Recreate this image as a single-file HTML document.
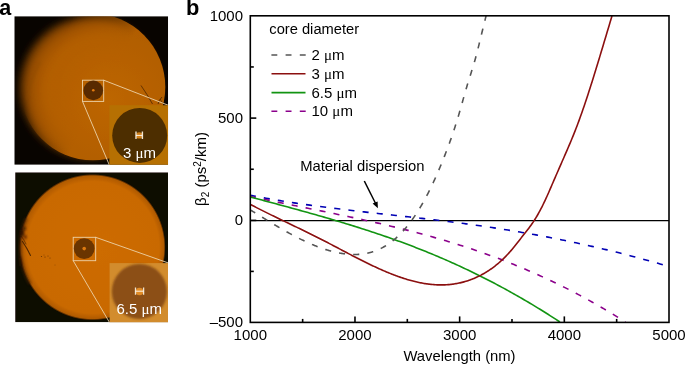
<!DOCTYPE html>
<html><head><meta charset="utf-8"><style>
html,body{margin:0;padding:0;background:#fff;}
body{width:685px;height:365px;overflow:hidden;}
svg{display:block;will-change:transform;font-family:"Liberation Sans",sans-serif;}
</style></head><body>
<svg width="685" height="365" viewBox="0 0 685 365">
<defs>
<radialGradient id="g1" gradientUnits="userSpaceOnUse" cx="110" cy="100" r="90">
<stop offset="0" stop-color="#bd6600"/><stop offset="1" stop-color="#ae5b00"/>
</radialGradient>
<radialGradient id="g1b" gradientUnits="userSpaceOnUse" cx="90" cy="87.5" r="71" fx="125" fy="95">
<stop offset="0" stop-color="#bd6600"/><stop offset="0.75" stop-color="#b35e00"/><stop offset="0.9" stop-color="#9a4f00"/><stop offset="1" stop-color="#4a2600"/>
</radialGradient>
<radialGradient id="g2" gradientUnits="userSpaceOnUse" cx="92.4" cy="247.2" r="73.2" fx="100" fy="250">
<stop offset="0" stop-color="#cd6c05"/><stop offset="0.9" stop-color="#c96904"/><stop offset="0.975" stop-color="#b05a00"/><stop offset="1" stop-color="#0c0700"/>
</radialGradient>
<filter id="blur1" x="-20%" y="-20%" width="140%" height="140%"><feGaussianBlur stdDeviation="1.2"/></filter>
<filter id="blur2" x="-20%" y="-20%" width="140%" height="140%"><feGaussianBlur stdDeviation="0.7"/></filter>
<filter id="blurL" x="-20%" y="-20%" width="140%" height="140%"><feGaussianBlur stdDeviation="3.5"/></filter>
<linearGradient id="lgL" gradientUnits="userSpaceOnUse" x1="60" y1="40" x2="115" y2="70"><stop offset="0" stop-color="#fff"/><stop offset="1" stop-color="#000"/></linearGradient>
<linearGradient id="lgR" gradientUnits="userSpaceOnUse" x1="60" y1="40" x2="115" y2="70"><stop offset="0" stop-color="#000"/><stop offset="1" stop-color="#fff"/></linearGradient>
<mask id="mL" maskUnits="userSpaceOnUse" x="0" y="0" width="685" height="365"><rect x="0" y="0" width="200" height="200" fill="url(#lgL)"/></mask>
<mask id="mR" maskUnits="userSpaceOnUse" x="0" y="0" width="685" height="365"><rect x="0" y="0" width="200" height="200" fill="url(#lgR)"/></mask>
<clipPath id="c1"><rect x="14.3" y="16.2" width="153.8" height="148.6"/></clipPath>
<clipPath id="c2"><rect x="15.2" y="172.3" width="152.8" height="150"/></clipPath>
<clipPath id="cp"><rect x="250.3" y="15.8" width="418.7" height="306.59999999999997"/></clipPath>
</defs>
<!-- panel labels -->
<text x="-0.7" y="14.7" font-size="21.5" font-weight="bold">a</text>
<text x="186" y="15.1" font-size="21.8" font-weight="bold">b</text>

<!-- image 1 -->
<g clip-path="url(#c1)">
<rect x="14.3" y="16.2" width="153.8" height="148.6" fill="#080400"/>
<ellipse cx="90" cy="87.5" rx="70.5" ry="71.5" fill="url(#g1b)" filter="url(#blurL)"/>
<ellipse cx="92.8" cy="87" rx="72.5" ry="73.3" fill="url(#g1)" filter="url(#blur2)" mask="url(#mR)"/>
<path d="M40,62 Q30,80 27,100" stroke="#8a4800" stroke-width="3" fill="none" opacity="0.3" filter="url(#blur1)"/>
<g stroke="#3a1c00" fill="none" stroke-width="0.9" filter="url(#blur2)">
<path d="M141,85.5 Q147,94 152.5,104" opacity="0.75"/>
<path d="M162,97 Q159,100 158,104" opacity="0.8"/>
<path d="M160,99 L163,104" opacity="0.6"/>
</g>
<rect x="82.5" y="80.2" width="21.2" height="21.2" fill="none" stroke="#ecd2a8" stroke-width="0.9"/>
<circle cx="93.3" cy="90.4" r="9.8" fill="#582b00" filter="url(#blur2)"/>
<circle cx="93.3" cy="90.3" r="1.3" fill="#e07a10"/>
<line x1="103.7" y1="80.2" x2="168.1" y2="105.2" stroke="#ecd2a8" stroke-width="0.9"/>
<line x1="82.5" y1="101.4" x2="109.3" y2="165" stroke="#ecd2a8" stroke-width="0.9"/>
<rect x="109.3" y="105.2" width="59" height="60" fill="#b67002"/>
<circle cx="139.7" cy="135.4" r="27.5" fill="#4e2d05" filter="url(#blur2)"/>
<circle cx="139.2" cy="135.4" r="3.2" fill="#d2821a" filter="url(#blur2)"/>
<g stroke="#f0e4d0" stroke-width="1.4"><line x1="136" y1="131.5" x2="136" y2="139"/><line x1="142.4" y1="131.5" x2="142.4" y2="139"/></g>
<line x1="136" y1="135.4" x2="142.4" y2="135.4" stroke="#fff" stroke-width="0.9"/>
<text x="123" y="157.5" font-size="15" fill="#fff">3 <tspan font-family="Liberation Serif">μ</tspan>m</text>
</g>

<!-- image 2 -->
<g clip-path="url(#c2)">
<rect x="15.1" y="172.3" width="153.5" height="150" fill="url(#g2)" filter="url(#blur2)"/>
<path d="M26.3,218.0 L25.1,221.0 L24.0,224.0 L23.1,227.0 L22.3,230.0 L21.6,233.0 L21.1,236.0 L20.7,239.0 L20.4,242.0 L20.2,245.0 L20.2,248.0 L20.3,251.0 L20.5,254.0 L20.9,257.0 L21.3,260.0 L21.9,263.0 L22.7,266.0 L23.5,269.0 L24.6,272.0 L25.7,275.0 L27.0,278.0 L28.5,281.0 L30.2,284.0" stroke="#4a2200" stroke-width="3.5" fill="none" opacity="0.55" filter="url(#blur1)"/>
<g fill="#2a1000" filter="url(#blur1)" opacity="0.8">
<ellipse cx="22" cy="233" rx="2" ry="3.5"/>
<ellipse cx="24.5" cy="228.5" rx="1.4" ry="1.8"/>
<ellipse cx="25.5" cy="237" rx="1" ry="2"/>
<ellipse cx="20" cy="262" rx="1.5" ry="5" opacity="0.6"/>
</g>
<g stroke="#2a1200" fill="none" stroke-linecap="round" filter="url(#blur2)">
<path d="M22.5,241.5 Q27,248 30.5,255.5" stroke-width="1.1" opacity="0.75"/>
<path d="M21,236 Q24,239 26,244" stroke-width="1" opacity="0.5"/>
</g>
<g fill="#3a1800" opacity="0.7">
<circle cx="41.5" cy="256.5" r="0.6"/><circle cx="45" cy="257" r="0.6"/><circle cx="48" cy="256" r="0.5"/><circle cx="50" cy="258" r="0.5"/><circle cx="44" cy="255" r="0.45"/><circle cx="55" cy="265" r="0.4"/>
</g>
<rect x="73.2" y="237.3" width="22.5" height="23.4" fill="none" stroke="#ecd2a8" stroke-width="0.9"/>
<circle cx="84.2" cy="248.6" r="10.4" fill="#6a3400" filter="url(#blur2)"/>
<circle cx="84.2" cy="248.6" r="1.8" fill="#dc7a10"/>
<line x1="95.7" y1="237.3" x2="168.7" y2="263.1" stroke="#ecd2a8" stroke-width="0.9"/>
<line x1="73.2" y1="260.7" x2="109.6" y2="322.6" stroke="#ecd2a8" stroke-width="0.9"/>
<rect x="109.6" y="263.1" width="59" height="60" fill="#d28c2d"/>
<circle cx="139.4" cy="291.5" r="27.6" fill="#8c5019" filter="url(#blur1)"/>
<circle cx="139.5" cy="291.5" r="3.8" fill="#e18c28" filter="url(#blur2)"/>
<g stroke="#f0e4d0" stroke-width="1.3"><line x1="135.5" y1="287.5" x2="135.5" y2="294.8"/><line x1="143.6" y1="287.5" x2="143.6" y2="294.8"/></g>
<line x1="135.5" y1="291.2" x2="143.6" y2="291.2" stroke="#fff" stroke-width="0.9"/>
<text x="116.5" y="314.1" font-size="15" fill="#fff">6.5 <tspan font-family="Liberation Serif">μ</tspan>m</text>
</g>

<!-- chart -->
<g font-size="15" fill="#000">
<text x="250.30" y="340.3" text-anchor="middle">1000</text><text x="354.98" y="340.3" text-anchor="middle">2000</text><text x="459.65" y="340.3" text-anchor="middle">3000</text><text x="564.33" y="340.3" text-anchor="middle">4000</text><text x="669.00" y="340.3" text-anchor="middle">5000</text>
<text x="243" y="21.0" text-anchor="end">1000</text><text x="243" y="123.0" text-anchor="end">500</text><text x="243" y="224.7" text-anchor="end">0</text><text x="243" y="327.0" text-anchor="end">–500</text>
<text x="459.5" y="360.6" text-anchor="middle" font-size="14.8">Wavelength (nm)</text>
<text transform="translate(205.7,169) rotate(-90)" text-anchor="middle">β<tspan font-size="10" dy="3">2</tspan><tspan dy="-3"> (ps</tspan><tspan font-size="10" dy="-5">2</tspan><tspan dy="5">/km)</tspan></text>
<text x="269.3" y="33.7" font-size="14.7">core diameter</text>
<text x="311.5" y="60">2 <tspan font-family="Liberation Serif">μ</tspan>m</text>
<text x="311.5" y="78.7">3 <tspan font-family="Liberation Serif">μ</tspan>m</text>
<text x="311.5" y="97.6">6.5 <tspan font-family="Liberation Serif">μ</tspan>m</text>
<text x="311.5" y="116.3">10 <tspan font-family="Liberation Serif">μ</tspan>m</text>
<text x="300.2" y="171.3" font-size="14.8">Material dispersion</text>
</g>
<g stroke-width="1.6" fill="none">
<line x1="271.4" y1="55" x2="306" y2="55" stroke="#555" stroke-dasharray="5.9 8.3"/>
<line x1="271.5" y1="73.7" x2="305.5" y2="73.7" stroke="#8b0f0f"/>
<line x1="271.5" y1="92.6" x2="305.5" y2="92.6" stroke="#129412"/>
<line x1="271.4" y1="111.3" x2="306" y2="111.3" stroke="#8b008b" stroke-dasharray="5.9 8.3"/>
</g>
<g clip-path="url(#cp)" fill="none" stroke-width="1.6" stroke-linejoin="round">
<line x1="250.3" y1="220.6" x2="669.0" y2="220.6" stroke="#000" stroke-width="1.4"/>
<path d="M250.00,195.27 L252.00,195.66 L254.00,196.04 L256.00,196.42 L258.00,196.80 L260.00,197.17 L262.00,197.53 L264.00,197.89 L266.00,198.25 L268.00,198.60 L270.00,198.95 L272.00,199.30 L274.00,199.64 L276.00,199.97 L278.00,200.31 L280.00,200.64 L282.00,200.96 L284.00,201.28 L286.00,201.60 L288.00,201.92 L290.00,202.23 L292.00,202.53 L294.00,202.84 L296.00,203.14 L298.00,203.44 L300.00,203.73 L302.00,204.02 L304.00,204.31 L306.00,204.60 L308.00,204.88 L310.00,205.16 L312.00,205.43 L314.00,205.71 L316.00,205.98 L318.00,206.25 L320.00,206.52 L322.00,206.78 L324.00,207.04 L326.00,207.30 L328.00,207.56 L330.00,207.81 L332.00,208.07 L334.00,208.32 L336.00,208.57 L338.00,208.81 L340.00,209.06 L342.00,209.30 L344.00,209.54 L346.00,209.78 L348.00,210.02 L350.00,210.26 L352.00,210.50 L354.00,210.73 L356.00,210.96 L358.00,211.20 L360.00,211.43 L362.00,211.66 L364.00,211.89 L366.00,212.12 L368.00,212.34 L370.00,212.57 L372.00,212.79 L374.00,213.02 L376.00,213.24 L378.00,213.47 L380.00,213.69 L382.00,213.91 L384.00,214.14 L386.00,214.36 L388.00,214.58 L390.00,214.80 L392.00,215.03 L394.00,215.25 L396.00,215.47 L398.00,215.69 L400.00,215.92 L402.00,216.14 L404.00,216.36 L406.00,216.59 L408.00,216.81 L410.00,217.04 L412.00,217.26 L414.00,217.49 L416.00,217.72 L418.00,217.94 L420.00,218.17 L422.00,218.40 L424.00,218.63 L426.00,218.86 L428.00,219.10 L430.00,219.33 L432.00,219.57 L434.00,219.80 L436.00,220.04 L438.00,220.28 L440.00,220.52 L442.00,220.77 L444.00,221.01 L446.00,221.26 L448.00,221.51 L450.00,221.76 L452.00,222.01 L454.00,222.27 L456.00,222.52 L458.00,222.78 L460.00,223.04 L462.00,223.31 L464.00,223.57 L466.00,223.84 L468.00,224.11 L470.00,224.39 L472.00,224.66 L474.00,224.94 L476.00,225.22 L478.00,225.50 L480.00,225.79 L482.00,226.08 L484.00,226.37 L486.00,226.66 L488.00,226.96 L490.00,227.26 L492.00,227.56 L494.00,227.87 L496.00,228.17 L498.00,228.48 L500.00,228.80 L502.00,229.11 L504.00,229.43 L506.00,229.75 L508.00,230.08 L510.00,230.40 L512.00,230.73 L514.00,231.06 L516.00,231.40 L518.00,231.74 L520.00,232.08 L522.00,232.42 L524.00,232.77 L526.00,233.12 L528.00,233.47 L530.00,233.83 L532.00,234.18 L534.00,234.55 L536.00,234.91 L538.00,235.28 L540.00,235.65 L542.00,236.02 L544.00,236.40 L546.00,236.78 L548.00,237.16 L550.00,237.54 L552.00,237.93 L554.00,238.33 L556.00,238.72 L558.00,239.12 L560.00,239.52 L562.00,239.92 L564.00,240.33 L566.00,240.74 L568.00,241.16 L570.00,241.57 L572.00,241.99 L574.00,242.42 L576.00,242.84 L578.00,243.27 L580.00,243.71 L582.00,244.14 L584.00,244.58 L586.00,245.03 L588.00,245.47 L590.00,245.92 L592.00,246.38 L594.00,246.84 L596.00,247.30 L598.00,247.76 L600.00,248.23 L602.00,248.70 L604.00,249.17 L606.00,249.65 L608.00,250.13 L610.00,250.61 L612.00,251.10 L614.00,251.59 L616.00,252.09 L618.00,252.59 L620.00,253.09 L622.00,253.60 L624.00,254.11 L626.00,254.62 L628.00,255.14 L630.00,255.66 L632.00,256.18 L634.00,256.71 L636.00,257.24 L638.00,257.77 L640.00,258.31 L642.00,258.86 L644.00,259.40 L646.00,259.95 L648.00,260.51 L650.00,261.06 L652.00,261.62 L654.00,262.19 L656.00,262.76 L658.00,263.33 L660.00,263.91 L662.00,264.49 L664.00,265.07 L666.00,265.66 L668.00,266.25 L669.00,266.55" stroke="#0000b4" stroke-dasharray="6.1 8.15" stroke-dashoffset="0.23"/>
<path d="M250.00,196.37 L252.00,196.79 L254.00,197.22 L256.00,197.64 L258.00,198.06 L260.00,198.48 L262.00,198.90 L264.00,199.31 L266.00,199.73 L268.00,200.14 L270.00,200.55 L272.00,200.96 L274.00,201.37 L276.00,201.78 L278.00,202.19 L280.00,202.60 L282.00,203.01 L284.00,203.41 L286.00,203.82 L288.00,204.22 L290.00,204.63 L292.00,205.03 L294.00,205.44 L296.00,205.84 L298.00,206.25 L300.00,206.65 L302.00,207.05 L304.00,207.46 L306.00,207.86 L308.00,208.27 L310.00,208.67 L312.00,209.08 L314.00,209.48 L316.00,209.89 L318.00,210.29 L320.00,210.70 L322.00,211.11 L324.00,211.52 L326.00,211.93 L328.00,212.34 L330.00,212.75 L332.00,213.16 L334.00,213.57 L336.00,213.99 L338.00,214.41 L340.00,214.82 L342.00,215.24 L344.00,215.66 L346.00,216.09 L348.00,216.51 L350.00,216.93 L352.00,217.36 L354.00,217.79 L356.00,218.22 L358.00,218.66 L360.00,219.09 L362.00,219.53 L364.00,219.97 L366.00,220.41 L368.00,220.86 L370.00,221.30 L372.00,221.75 L374.00,222.21 L376.00,222.66 L378.00,223.12 L380.00,223.58 L382.00,224.04 L384.00,224.51 L386.00,224.98 L388.00,225.45 L390.00,225.93 L392.00,226.41 L394.00,226.89 L396.00,227.38 L398.00,227.87 L400.00,228.36 L402.00,228.86 L404.00,229.36 L406.00,229.86 L408.00,230.37 L410.00,230.88 L412.00,231.40 L414.00,231.92 L416.00,232.44 L418.00,232.97 L420.00,233.50 L422.00,234.04 L424.00,234.58 L426.00,235.13 L428.00,235.68 L430.00,236.23 L432.00,236.79 L434.00,237.36 L436.00,237.93 L438.00,238.50 L440.00,239.08 L442.00,239.67 L444.00,240.26 L446.00,240.85 L448.00,241.45 L450.00,242.06 L452.00,242.67 L454.00,243.29 L456.00,243.91 L458.00,244.54 L460.00,245.17 L462.00,245.81 L464.00,246.45 L466.00,247.10 L468.00,247.76 L470.00,248.42 L472.00,249.09 L474.00,249.77 L476.00,250.45 L478.00,251.13 L480.00,251.82 L482.00,252.52 L484.00,253.23 L486.00,253.94 L488.00,254.66 L490.00,255.38 L492.00,256.11 L494.00,256.85 L496.00,257.59 L498.00,258.34 L500.00,259.10 L502.00,259.86 L504.00,260.63 L506.00,261.41 L508.00,262.19 L510.00,262.99 L512.00,263.78 L514.00,264.59 L516.00,265.40 L518.00,266.22 L520.00,267.04 L522.00,267.88 L524.00,268.72 L526.00,269.57 L528.00,270.42 L530.00,271.28 L532.00,272.15 L534.00,273.03 L536.00,273.92 L538.00,274.81 L540.00,275.71 L542.00,276.62 L544.00,277.54 L546.00,278.46 L548.00,279.39 L550.00,280.33 L552.00,281.28 L554.00,282.23 L556.00,283.20 L558.00,284.17 L560.00,285.15 L562.00,286.14 L564.00,287.13 L566.00,288.14 L568.00,289.15 L570.00,290.17 L572.00,291.21 L574.00,292.24 L576.00,293.29 L578.00,294.35 L580.00,295.41 L582.00,296.49 L584.00,297.57 L586.00,298.66 L588.00,299.76 L590.00,300.87 L592.00,301.99 L594.00,303.11 L596.00,304.25 L598.00,305.39 L600.00,306.55 L602.00,307.71 L604.00,308.88 L606.00,310.07 L608.00,311.26 L610.00,312.46 L612.00,313.67 L614.00,314.89 L616.00,316.12 L618.00,317.36 L620.00,318.61 L622.00,319.87 L624.00,321.14 L625.35,322.00" stroke="#8b008b" stroke-dasharray="6.1 8.12" stroke-dashoffset="0.15"/>
<path d="M250.00,196.87 L252.00,197.41 L254.00,197.94 L256.00,198.48 L258.00,199.02 L260.00,199.55 L262.00,200.09 L264.00,200.62 L266.00,201.16 L268.00,201.69 L270.00,202.23 L272.00,202.77 L274.00,203.31 L276.00,203.84 L278.00,204.38 L280.00,204.92 L282.00,205.46 L284.00,206.00 L286.00,206.55 L288.00,207.09 L290.00,207.63 L292.00,208.18 L294.00,208.73 L296.00,209.28 L298.00,209.83 L300.00,210.38 L302.00,210.93 L304.00,211.48 L306.00,212.04 L308.00,212.60 L310.00,213.16 L312.00,213.72 L314.00,214.28 L316.00,214.85 L318.00,215.42 L320.00,215.99 L322.00,216.56 L324.00,217.14 L326.00,217.72 L328.00,218.30 L330.00,218.88 L332.00,219.47 L334.00,220.06 L336.00,220.65 L338.00,221.24 L340.00,221.84 L342.00,222.44 L344.00,223.05 L346.00,223.66 L348.00,224.27 L350.00,224.88 L352.00,225.50 L354.00,226.12 L356.00,226.75 L358.00,227.38 L360.00,228.01 L362.00,228.65 L364.00,229.29 L366.00,229.94 L368.00,230.59 L370.00,231.24 L372.00,231.90 L374.00,232.56 L376.00,233.23 L378.00,233.90 L380.00,234.58 L382.00,235.26 L384.00,235.94 L386.00,236.63 L388.00,237.33 L390.00,238.03 L392.00,238.74 L394.00,239.45 L396.00,240.16 L398.00,240.88 L400.00,241.61 L402.00,242.34 L404.00,243.08 L406.00,243.83 L408.00,244.58 L410.00,245.33 L412.00,246.09 L414.00,246.86 L416.00,247.63 L418.00,248.41 L420.00,249.20 L422.00,249.99 L424.00,250.79 L426.00,251.59 L428.00,252.40 L430.00,253.22 L432.00,254.05 L434.00,254.88 L436.00,255.72 L438.00,256.56 L440.00,257.41 L442.00,258.27 L444.00,259.14 L446.00,260.01 L448.00,260.89 L450.00,261.77 L452.00,262.67 L454.00,263.57 L456.00,264.47 L458.00,265.39 L460.00,266.31 L462.00,267.24 L464.00,268.17 L466.00,269.11 L468.00,270.06 L470.00,271.02 L472.00,271.98 L474.00,272.96 L476.00,273.94 L478.00,274.92 L480.00,275.91 L482.00,276.92 L484.00,277.92 L486.00,278.94 L488.00,279.96 L490.00,280.99 L492.00,282.03 L494.00,283.08 L496.00,284.13 L498.00,285.19 L500.00,286.26 L502.00,287.34 L504.00,288.42 L506.00,289.52 L508.00,290.62 L510.00,291.72 L512.00,292.84 L514.00,293.96 L516.00,295.09 L518.00,296.23 L520.00,297.38 L522.00,298.53 L524.00,299.70 L526.00,300.87 L528.00,302.05 L530.00,303.24 L532.00,304.43 L534.00,305.63 L536.00,306.85 L538.00,308.07 L540.00,309.30 L542.00,310.53 L544.00,311.78 L546.00,313.03 L548.00,314.29 L550.00,315.56 L552.00,316.84 L554.00,318.13 L556.00,319.42 L558.00,320.73 L559.94,322.00" stroke="#129412"/>
<path d="M250.00,204.22 L251.00,204.74 L252.00,205.27 L253.00,205.79 L254.00,206.31 L255.00,206.83 L256.00,207.35 L257.00,207.86 L258.00,208.37 L259.00,208.88 L260.00,209.39 L261.00,209.90 L262.00,210.40 L263.00,210.90 L264.00,211.40 L265.00,211.90 L266.00,212.40 L267.00,212.89 L268.00,213.39 L269.00,213.88 L270.00,214.37 L271.00,214.86 L272.00,215.35 L273.00,215.84 L274.00,216.33 L275.00,216.81 L276.00,217.30 L277.00,217.78 L278.00,218.26 L279.00,218.75 L280.00,219.23 L281.00,219.71 L282.00,220.19 L283.00,220.67 L284.00,221.15 L285.00,221.63 L286.00,222.11 L287.00,222.59 L288.00,223.07 L289.00,223.54 L290.00,224.02 L291.00,224.50 L292.00,224.98 L293.00,225.46 L294.00,225.94 L295.00,226.42 L296.00,226.90 L297.00,227.38 L298.00,227.86 L299.00,228.34 L300.00,228.82 L301.00,229.30 L302.00,229.79 L303.00,230.27 L304.00,230.76 L305.00,231.24 L306.00,231.73 L307.00,232.22 L308.00,232.71 L309.00,233.20 L310.00,233.69 L311.00,234.18 L312.00,234.68 L313.00,235.17 L314.00,235.67 L315.00,236.17 L316.00,236.67 L317.00,237.17 L318.00,237.68 L319.00,238.18 L320.00,238.69 L321.00,239.20 L322.00,239.71 L323.00,240.23 L324.00,240.74 L325.00,241.26 L326.00,241.78 L327.00,242.30 L328.00,242.82 L329.00,243.34 L330.00,243.86 L331.00,244.38 L332.00,244.91 L333.00,245.43 L334.00,245.96 L335.00,246.49 L336.00,247.01 L337.00,247.54 L338.00,248.07 L339.00,248.60 L340.00,249.12 L341.00,249.65 L342.00,250.18 L343.00,250.71 L344.00,251.23 L345.00,251.76 L346.00,252.29 L347.00,252.81 L348.00,253.34 L349.00,253.86 L350.00,254.38 L351.00,254.90 L352.00,255.43 L353.00,255.94 L354.00,256.46 L355.00,256.98 L356.00,257.49 L357.00,258.01 L358.00,258.52 L359.00,259.03 L360.00,259.54 L361.00,260.04 L362.00,260.55 L363.00,261.05 L364.00,261.55 L365.00,262.04 L366.00,262.54 L367.00,263.03 L368.00,263.52 L369.00,264.00 L370.00,264.49 L371.00,264.97 L372.00,265.44 L373.00,265.92 L374.00,266.39 L375.00,266.85 L376.00,267.32 L377.00,267.78 L378.00,268.23 L379.00,268.68 L380.00,269.13 L381.00,269.58 L382.00,270.02 L383.00,270.45 L384.00,270.88 L385.00,271.31 L386.00,271.73 L387.00,272.15 L388.00,272.56 L389.00,272.97 L390.00,273.38 L391.00,273.77 L392.00,274.17 L393.00,274.56 L394.00,274.94 L395.00,275.32 L396.00,275.69 L397.00,276.05 L398.00,276.41 L399.00,276.77 L400.00,277.12 L401.00,277.46 L402.00,277.80 L403.00,278.13 L404.00,278.45 L405.00,278.77 L406.00,279.08 L407.00,279.39 L408.00,279.68 L409.00,279.97 L410.00,280.26 L411.00,280.53 L412.00,280.80 L413.00,281.07 L414.00,281.32 L415.00,281.57 L416.00,281.81 L417.00,282.04 L418.00,282.26 L419.00,282.47 L420.00,282.68 L421.00,282.88 L422.00,283.07 L423.00,283.25 L424.00,283.42 L425.00,283.59 L426.00,283.74 L427.00,283.89 L428.00,284.03 L429.00,284.15 L430.00,284.27 L431.00,284.38 L432.00,284.48 L433.00,284.57 L434.00,284.65 L435.00,284.72 L436.00,284.78 L437.00,284.83 L438.00,284.87 L439.00,284.89 L440.00,284.91 L441.00,284.92 L442.00,284.92 L443.00,284.90 L444.00,284.88 L445.00,284.84 L446.00,284.79 L447.00,284.73 L448.00,284.66 L449.00,284.58 L450.00,284.48 L451.00,284.38 L452.00,284.26 L453.00,284.13 L454.00,283.99 L455.00,283.83 L456.00,283.66 L457.00,283.49 L458.00,283.29 L459.00,283.09 L460.00,282.87 L461.00,282.64 L462.00,282.39 L463.00,282.14 L464.00,281.87 L465.00,281.58 L466.00,281.28 L467.00,280.97 L468.00,280.65 L469.00,280.31 L470.00,279.95 L471.00,279.58 L472.00,279.20 L473.00,278.80 L474.00,278.39 L475.00,277.97 L476.00,277.53 L477.00,277.07 L478.00,276.60 L479.00,276.11 L480.00,275.61 L481.00,275.10 L482.00,274.56 L483.00,274.01 L484.00,273.45 L485.00,272.87 L486.00,272.27 L487.00,271.65 L488.00,271.01 L489.00,270.36 L490.00,269.69 L491.00,269.00 L492.00,268.28 L493.00,267.55 L494.00,266.80 L495.00,266.03 L496.00,265.24 L497.00,264.43 L498.00,263.59 L499.00,262.74 L500.00,261.86 L501.00,260.96 L502.00,260.03 L503.00,259.08 L504.00,258.11 L505.00,257.12 L506.00,256.10 L507.00,255.05 L508.00,253.99 L509.00,252.89 L510.00,251.77 L511.00,250.63 L512.00,249.45 L513.00,248.25 L514.00,247.03 L515.00,245.79 L516.00,244.54 L517.00,243.27 L518.00,241.99 L519.00,240.70 L520.00,239.41 L521.00,238.13 L522.00,236.85 L523.00,235.57 L524.00,234.31 L525.00,233.05 L526.00,231.78 L527.00,230.51 L528.00,229.22 L529.00,227.91 L530.00,226.57 L531.00,225.20 L532.00,223.79 L533.00,222.34 L534.00,220.83 L535.00,219.26 L536.00,217.64 L537.00,215.97 L538.00,214.24 L539.00,212.45 L540.00,210.61 L541.00,208.71 L542.00,206.76 L543.00,204.76 L544.00,202.70 L545.00,200.59 L546.00,198.43 L547.00,196.22 L548.00,193.98 L549.00,191.71 L550.00,189.41 L551.00,187.10 L552.00,184.79 L553.00,182.47 L554.00,180.16 L555.00,177.85 L556.00,175.55 L557.00,173.25 L558.00,170.96 L559.00,168.67 L560.00,166.38 L561.00,164.09 L562.00,161.80 L563.00,159.51 L564.00,157.22 L565.00,154.93 L566.00,152.63 L567.00,150.32 L568.00,148.01 L569.00,145.68 L570.00,143.33 L571.00,140.95 L572.00,138.55 L573.00,136.11 L574.00,133.64 L575.00,131.13 L576.00,128.57 L577.00,125.96 L578.00,123.31 L579.00,120.60 L580.00,117.85 L581.00,115.06 L582.00,112.22 L583.00,109.35 L584.00,106.43 L585.00,103.48 L586.00,100.49 L587.00,97.47 L588.00,94.41 L589.00,91.33 L590.00,88.22 L591.00,85.08 L592.00,81.91 L593.00,78.72 L594.00,75.51 L595.00,72.28 L596.00,69.03 L597.00,65.77 L598.00,62.49 L599.00,59.19 L600.00,55.89 L601.00,52.57 L602.00,49.25 L603.00,45.92 L604.00,42.59 L605.00,39.25 L606.00,35.91 L607.00,32.57 L608.00,29.24 L609.00,25.90 L610.00,22.58 L611.00,19.26 L611.98,16.00" stroke="#8b0f0f"/>
<path d="M250.00,209.71 L250.50,210.02 L251.00,210.33 L251.50,210.64 L252.00,210.95 L252.50,211.25 L253.00,211.56 L253.50,211.87 L254.00,212.18 L254.50,212.49 L255.00,212.80 L255.50,213.11 L256.00,213.42 L256.50,213.73 L257.00,214.03 L257.50,214.34 L258.00,214.65 L258.50,214.96 L259.00,215.27 L259.50,215.58 L260.00,215.89 L260.50,216.20 L261.00,216.50 L261.50,216.81 L262.00,217.12 L262.50,217.43 L263.00,217.74 L263.50,218.04 L264.00,218.35 L264.50,218.66 L265.00,218.96 L265.50,219.27 L266.00,219.58 L266.50,219.88 L267.00,220.19 L267.50,220.49 L268.00,220.80 L268.50,221.10 L269.00,221.41 L269.50,221.71 L270.00,222.01 L270.50,222.32 L271.00,222.62 L271.50,222.92 L272.00,223.22 L272.50,223.52 L273.00,223.82 L273.50,224.12 L274.00,224.42 L274.50,224.72 L275.00,225.02 L275.50,225.32 L276.00,225.62 L276.50,225.91 L277.00,226.21 L277.50,226.50 L278.00,226.80 L278.50,227.09 L279.00,227.38 L279.50,227.68 L280.00,227.97 L280.50,228.26 L281.00,228.55 L281.50,228.84 L282.00,229.13 L282.50,229.42 L283.00,229.70 L283.50,229.99 L284.00,230.27 L284.50,230.56 L285.00,230.84 L285.50,231.13 L286.00,231.41 L286.50,231.69 L287.00,231.97 L287.50,232.25 L288.00,232.53 L288.50,232.80 L289.00,233.08 L289.50,233.35 L290.00,233.63 L290.50,233.90 L291.00,234.17 L291.50,234.44 L292.00,234.71 L292.50,234.98 L293.00,235.25 L293.50,235.51 L294.00,235.78 L294.50,236.04 L295.00,236.31 L295.50,236.57 L296.00,236.83 L296.50,237.09 L297.00,237.35 L297.50,237.60 L298.00,237.86 L298.50,238.11 L299.00,238.36 L299.50,238.61 L300.00,238.86 L300.50,239.11 L301.00,239.36 L301.50,239.61 L302.00,239.85 L302.50,240.09 L303.00,240.34 L303.50,240.58 L304.00,240.81 L304.50,241.05 L305.00,241.29 L305.50,241.52 L306.00,241.75 L306.50,241.98 L307.00,242.21 L307.50,242.44 L308.00,242.67 L308.50,242.89 L309.00,243.12 L309.50,243.34 L310.00,243.56 L310.50,243.77 L311.00,243.99 L311.50,244.21 L312.00,244.42 L312.50,244.63 L313.00,244.84 L313.50,245.05 L314.00,245.25 L314.50,245.46 L315.00,245.66 L315.50,245.86 L316.00,246.06 L316.50,246.25 L317.00,246.45 L317.50,246.64 L318.00,246.83 L318.50,247.02 L319.00,247.21 L319.50,247.39 L320.00,247.58 L320.50,247.76 L321.00,247.94 L321.50,248.11 L322.00,248.29 L322.50,248.46 L323.00,248.63 L323.50,248.80 L324.00,248.97 L324.50,249.13 L325.00,249.30 L325.50,249.46 L326.00,249.62 L326.50,249.77 L327.00,249.93 L327.50,250.08 L328.00,250.23 L328.50,250.37 L329.00,250.52 L329.50,250.66 L330.00,250.80 L330.50,250.94 L331.00,251.08 L331.50,251.21 L332.00,251.34 L332.50,251.47 L333.00,251.60 L333.50,251.72 L334.00,251.84 L334.50,251.96 L335.00,252.08 L335.50,252.19 L336.00,252.30 L336.50,252.41 L337.00,252.52 L337.50,252.62 L338.00,252.72 L338.50,252.82 L339.00,252.92 L339.50,253.01 L340.00,253.11 L340.50,253.19 L341.00,253.28 L341.50,253.36 L342.00,253.45 L342.50,253.52 L343.00,253.60 L343.50,253.67 L344.00,253.74 L344.50,253.81 L345.00,253.87 L345.50,253.94 L346.00,253.99 L346.50,254.05 L347.00,254.10 L347.50,254.15 L348.00,254.20 L348.50,254.24 L349.00,254.28 L349.50,254.32 L350.00,254.35 L350.50,254.38 L351.00,254.41 L351.50,254.44 L352.00,254.46 L352.50,254.47 L353.00,254.49 L353.50,254.50 L354.00,254.50 L354.50,254.51 L355.00,254.50 L355.50,254.50 L356.00,254.49 L356.50,254.48 L357.00,254.46 L357.50,254.44 L358.00,254.42 L358.50,254.39 L359.00,254.36 L359.50,254.33 L360.00,254.29 L360.50,254.24 L361.00,254.19 L361.50,254.14 L362.00,254.09 L362.50,254.03 L363.00,253.96 L363.50,253.89 L364.00,253.82 L364.50,253.74 L365.00,253.66 L365.50,253.57 L366.00,253.48 L366.50,253.38 L367.00,253.28 L367.50,253.17 L368.00,253.06 L368.50,252.95 L369.00,252.83 L369.50,252.70 L370.00,252.57 L370.50,252.44 L371.00,252.30 L371.50,252.15 L372.00,252.00 L372.50,251.85 L373.00,251.69 L373.50,251.52 L374.00,251.35 L374.50,251.18 L375.00,251.00 L375.50,250.81 L376.00,250.62 L376.50,250.42 L377.00,250.22 L377.50,250.01 L378.00,249.80 L378.50,249.58 L379.00,249.35 L379.50,249.12 L380.00,248.89 L380.50,248.64 L381.00,248.40 L381.50,248.14 L382.00,247.88 L382.50,247.62 L383.00,247.35 L383.50,247.07 L384.00,246.78 L384.50,246.49 L385.00,246.20 L385.50,245.90 L386.00,245.59 L386.50,245.27 L387.00,244.95 L387.50,244.63 L388.00,244.29 L388.50,243.95 L389.00,243.61 L389.50,243.25 L390.00,242.89 L390.50,242.53 L391.00,242.15 L391.50,241.78 L392.00,241.39 L392.50,241.00 L393.00,240.60 L393.50,240.19 L394.00,239.78 L394.50,239.36 L395.00,238.93 L395.50,238.49 L396.00,238.05 L396.50,237.60 L397.00,237.15 L397.50,236.69 L398.00,236.22 L398.50,235.74 L399.00,235.26 L399.50,234.76 L400.00,234.26 L400.50,233.76 L401.00,233.24 L401.50,232.72 L402.00,232.19 L402.50,231.66 L403.00,231.11 L403.50,230.56 L404.00,230.00 L404.50,229.43 L405.00,228.86 L405.50,228.27 L406.00,227.68 L406.50,227.08 L407.00,226.48 L407.50,225.86 L408.00,225.24 L408.50,224.61 L409.00,223.97 L409.50,223.32 L410.00,222.67 L410.50,222.00 L411.00,221.33 L411.50,220.65 L412.00,219.96 L412.50,219.27 L413.00,218.56 L413.50,217.85 L414.00,217.13 L414.50,216.39 L415.00,215.65 L415.50,214.91 L416.00,214.15 L416.50,213.38 L417.00,212.61 L417.50,211.83 L418.00,211.03 L418.50,210.23 L419.00,209.42 L419.50,208.60 L420.00,207.77 L420.50,206.94 L421.00,206.09 L421.50,205.24 L422.00,204.37 L422.50,203.50 L423.00,202.62 L423.50,201.72 L424.00,200.82 L424.50,199.91 L425.00,198.99 L425.50,198.06 L426.00,197.13 L426.50,196.18 L427.00,195.22 L427.50,194.26 L428.00,193.29 L428.50,192.30 L429.00,191.31 L429.50,190.31 L430.00,189.30 L430.50,188.28 L431.00,187.25 L431.50,186.22 L432.00,185.17 L432.50,184.12 L433.00,183.05 L433.50,181.98 L434.00,180.90 L434.50,179.81 L435.00,178.71 L435.50,177.60 L436.00,176.48 L436.50,175.35 L437.00,174.22 L437.50,173.07 L438.00,171.92 L438.50,170.76 L439.00,169.59 L439.50,168.41 L440.00,167.22 L440.50,166.02 L441.00,164.82 L441.50,163.60 L442.00,162.38 L442.50,161.14 L443.00,159.90 L443.50,158.65 L444.00,157.39 L444.50,156.12 L445.00,154.84 L445.50,153.56 L446.00,152.26 L446.50,150.96 L447.00,149.64 L447.50,148.32 L448.00,146.98 L448.50,145.63 L449.00,144.27 L449.50,142.90 L450.00,141.52 L450.50,140.12 L451.00,138.71 L451.50,137.28 L452.00,135.84 L452.50,134.39 L453.00,132.92 L453.50,131.43 L454.00,129.93 L454.50,128.41 L455.00,126.88 L455.50,125.32 L456.00,123.75 L456.50,122.16 L457.00,120.56 L457.50,118.93 L458.00,117.28 L458.50,115.62 L459.00,113.93 L459.50,112.22 L460.00,110.50 L460.50,108.75 L461.00,107.00 L461.50,105.23 L462.00,103.46 L462.50,101.68 L463.00,99.90 L463.50,98.13 L464.00,96.36 L464.50,94.59 L465.00,92.84 L465.50,91.10 L466.00,89.38 L466.50,87.68 L467.00,86.00 L467.50,84.35 L468.00,82.72 L468.50,81.11 L469.00,79.52 L469.50,77.93 L470.00,76.36 L470.50,74.78 L471.00,73.20 L471.50,71.61 L472.00,70.02 L472.50,68.40 L473.00,66.77 L473.50,65.11 L474.00,63.43 L474.50,61.71 L475.00,59.95 L475.50,58.16 L476.00,56.32 L476.50,54.44 L477.00,52.52 L477.50,50.58 L478.00,48.61 L478.50,46.61 L479.00,44.59 L479.50,42.56 L480.00,40.51 L480.50,38.45 L481.00,36.39 L481.50,34.32 L482.00,32.26 L482.50,30.20 L483.00,28.15 L483.50,26.11 L484.00,24.09 L484.50,22.08 L485.00,20.11 L485.50,18.15 L486.00,16.23 L486.06,16.00" stroke="#555" stroke-dasharray="6.1 8.12" stroke-dashoffset="0"/>
</g>
<!-- arrow -->
<line x1="364.3" y1="181" x2="375.6" y2="203.5" stroke="#000" stroke-width="1.5"/>
<path d="M377.9,208.3 L372.6,203.6 L377.6,201.6 Z" fill="#000"/>
<!-- frame & ticks -->
<g stroke="#000" stroke-width="1.6" fill="none">
<rect x="250.3" y="15.8" width="418.7" height="306.59999999999997"/>
<line x1="302.64" y1="322.4" x2="302.64" y2="318.90"/><line x1="354.98" y1="322.4" x2="354.98" y2="316.40"/><line x1="407.31" y1="322.4" x2="407.31" y2="318.90"/><line x1="459.65" y1="322.4" x2="459.65" y2="316.40"/><line x1="511.99" y1="322.4" x2="511.99" y2="318.90"/><line x1="564.33" y1="322.4" x2="564.33" y2="316.40"/><line x1="616.66" y1="322.4" x2="616.66" y2="318.90"/><line x1="250.3" y1="66.95" x2="253.80" y2="66.95"/><line x1="250.3" y1="118.10" x2="256.30" y2="118.10"/><line x1="250.3" y1="169.25" x2="253.80" y2="169.25"/><line x1="250.3" y1="220.40" x2="256.30" y2="220.40"/><line x1="250.3" y1="271.40" x2="253.80" y2="271.40"/>
</g>
</svg>
</body></html>
